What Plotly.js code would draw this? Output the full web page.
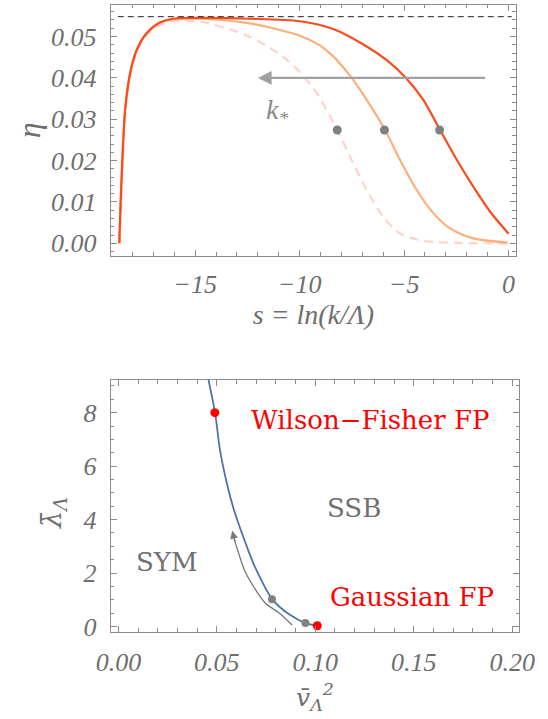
<!DOCTYPE html>
<html>
<head>
<meta charset="utf-8">
<script src="https://cdn.plot.ly/plotly-3.0.1.min.js"></script>
<style>html,body{margin:0;padding:0;background:#fff}#chart{width:548px;height:719px}</style>
</head>
<body>
<div id="chart"></div>
<script>
// ---------- top panel: eta(s) ----------
const sRed   = [-18.63,-18.56,-18.46,-18.35,-18.11,-17.79,-17.32,-16.68,-16.04,-14.77,-12.4,-9.98,-8.39,-6.79,-5.83,-4.91,-4.08,-3.28,-2.48,-1.69,-0.89,0];
const etaRed = [0,0.0105,0.0226,0.0323,0.0411,0.0468,0.0508,0.0534,0.0543,0.0545,0.0543,0.0537,0.0518,0.0476,0.0443,0.0400,0.0347,0.0274,0.0202,0.0137,0.0077,0.0023];

const sOrange   = [-18.63,-18.56,-18.46,-18.35,-18.11,-17.79,-17.32,-16.68,-16.04,-14.77,-12.4,-9.98,-9.02,-8.39,-7.51,-6.79,-5.91,-5.20,-4.40,-3.60,-2.80,-1.69,-0.06];
const etaOrange = [0,0.0105,0.0226,0.0323,0.0411,0.0468,0.0508,0.0533,0.0542,0.0543,0.0532,0.0502,0.0478,0.0452,0.0400,0.0347,0.0274,0.0202,0.0129,0.0073,0.0036,0.0012,0.0002];

const sPink   = [-18.6,-18.53,-18.43,-18.32,-18.08,-17.76,-17.29,-16.65,-16.0,-14.77,-12.5,-10.78,-9.98,-9.18,-8.20,-7.59,-6.79,-6.00,-5.20,-4.08,-2.5,0];
const etaPink = [0,0.0105,0.0226,0.0323,0.0411,0.0468,0.0505,0.0528,0.0537,0.0536,0.0502,0.0451,0.0413,0.0363,0.0274,0.0210,0.0129,0.0064,0.0024,0.0006,0.0001,0];

const etaStarS   = [-18.7, 0.15];
const etaStarVal = [0.0548, 0.0548];

const kStarS   = [-8.20, -5.94, -3.30];
const kStarEta = [0.0274, 0.0274, 0.0274];

const topArrowS   = [-1.05, -12.0];   // tail, head
const topArrowEta = [0.0400, 0.0400];
const kLabel = {s: -11.1, eta: 0.0318, text: "<i>k</i><sub>*</sub>"};

// ---------- bottom panel: flow in (v^2, lambda) ----------
const flowV   = [0.0452,0.0457,0.0491,0.0516,0.0551,0.0587,0.0640,0.0693,0.0782,0.0871,0.0951,0.101];
const flowLam = [9.5,9.26,8.0,6.6,5.36,4.36,3.24,2.24,1.02,0.44,0.13,0.03];

const fpV   = [0.049, 0.101];
const fpLam = [8.0, 0.03];
const grayV   = [0.078, 0.095];
const grayLam = [1.02, 0.13];

const curveArrowV   = [0.0882,0.0818,0.0747,0.0676,0.0640,0.0605,0.0588];
const curveArrowLam = [0.06,0.50,0.87,1.62,2.12,2.87,3.30];
const curveArrowHead = {v: 0.0578, lam: 3.58};

const regionLabels = [
  {v: 0.1276, lam: 7.73, text: "Wilson\u2212Fisher FP", color: "#ff0000"},
  {v: 0.1493, lam: 1.12, text: "Gaussian FP", color: "#ff0000"},
  {v: 0.1195, lam: 4.43, text: "SSB", color: "#707070"},
  {v: 0.0245, lam: 2.43, text: "SYM", color: "#707070"}
];
const lambdaTitle = "\u03BB\u0304<sub>\u039B</sub>";

const gray = "#6e6e6e";
const frame = "#8c8c8c";
const serif = "DejaVu Serif";
const itSerif = "Liberation Serif";
const tickFont = {family: itSerif, size: 26, color: gray, style: "italic"};

const traces = [
  {x: sPink, y: etaPink, xaxis: "x", yaxis: "y", mode: "lines",
   line: {color: "rgba(253,200,190,0.8)", width: 2.2, dash: "9px,6px", shape: "spline", smoothing: 0.8}, hoverinfo: "skip"},
  {x: sOrange, y: etaOrange, xaxis: "x", yaxis: "y", mode: "lines",
   line: {color: "rgba(253,160,100,0.85)", width: 2.2, shape: "spline", smoothing: 0.8}, hoverinfo: "skip"},
  {x: sRed, y: etaRed, xaxis: "x", yaxis: "y", mode: "lines",
   line: {color: "#fc4a1a", width: 2.2, shape: "spline", smoothing: 0.8}, hoverinfo: "skip"},
  {x: etaStarS, y: etaStarVal, xaxis: "x", yaxis: "y", mode: "lines",
   line: {color: "#222", width: 1, dash: "6px,4px"}, hoverinfo: "skip"},
  {x: kStarS, y: kStarEta, xaxis: "x", yaxis: "y", mode: "markers",
   marker: {color: "#808080", size: 9}, hoverinfo: "skip"},

  {x: flowV, y: flowLam, xaxis: "x2", yaxis: "y2", mode: "lines",
   line: {color: "#4f73ad", width: 1.8, shape: "spline", smoothing: 0.8}, hoverinfo: "skip"},
  {x: curveArrowV, y: curveArrowLam, xaxis: "x2", yaxis: "y2", mode: "lines",
   line: {color: "#777", width: 1.3, shape: "spline", smoothing: 0.8}, hoverinfo: "skip"},
  {x: grayV, y: grayLam, xaxis: "x2", yaxis: "y2", mode: "markers",
   marker: {color: "#808080", size: 8}, hoverinfo: "skip"},
  {x: fpV, y: fpLam, xaxis: "x2", yaxis: "y2", mode: "markers",
   marker: {color: "#ff0000", size: 9}, hoverinfo: "skip", cliponaxis: false}
];

function axisBase(extra) {
  return Object.assign({
    showline: true, linecolor: frame, linewidth: 1, mirror: "allticks",
    ticks: "inside", ticklen: 6, tickwidth: 1, tickcolor: frame,
    showgrid: false, zeroline: false, automargin: true,
    tickfont: tickFont, ticklabelstandoff: 6
  }, extra);
}

const annotations = [
  {x: topArrowS[1], y: topArrowEta[1], ax: topArrowS[0], ay: topArrowEta[0],
   xref: "x", yref: "y", axref: "x", ayref: "y", showarrow: true, text: "",
   arrowhead: 2, arrowsize: 1.15, arrowwidth: 2.4, arrowcolor: "#a0a0a0"},
  {x: curveArrowHead.v, y: curveArrowHead.lam, xref: "x2", yref: "y2", ax: 3, ay: 12,
   showarrow: true, text: "", arrowhead: 2, arrowsize: 1.1, arrowwidth: 1.4, arrowcolor: "#777"},
  {x: kLabel.s, y: kLabel.eta, xref: "x", yref: "y", text: kLabel.text, showarrow: false,
   font: {family: itSerif, size: 28, color: "#8a8a8a", style: "italic"}},
  {x: -0.1366, y: 0.1908, xref: "paper", yref: "paper", xanchor: "center", yanchor: "middle",
   text: lambdaTitle, textangle: -90, showarrow: false,
   font: {family: serif, size: 27, color: gray, style: "italic"}}
].concat(regionLabels.map(r => ({
  x: r.v, y: r.lam, xref: "x2", yref: "y2", text: r.text, showarrow: false,
  font: {family: serif, size: 26, color: r.color}
})));

const layout = {
  width: 548, height: 719,
  margin: {l: 110, r: 28, t: 4, b: 86},
  paper_bgcolor: "#fff", plot_bgcolor: "#fff",
  showlegend: false,
  xaxis: axisBase({domain: [0.0017, 0.9902], anchor: "y", range: [-19.04, 0.354],
    dtick: 5, tick0: 0, ticklabelstandoff: 5,
    minor: {dtick: 1, ticks: "inside", ticklen: 3.5, tickcolor: frame, showgrid: false},
    title: {text: "s = ln(k/\u039B)", font: {family: itSerif, size: 28, color: gray, style: "italic"}, standoff: 0}}),
  yaxis: axisBase({domain: [0.5998, 0.9989], anchor: "x", range: [-0.0030, 0.0577],
    dtick: 0.01, tick0: 0, tickformat: ".2f", ticklabelstandoff: 8,
    minor: {dtick: 0.002, ticks: "inside", ticklen: 3.5, tickcolor: frame, showgrid: false},
    title: {text: "\u03B7", font: {family: itSerif, size: 32, color: gray, style: "italic"}, standoff: 0}}),
  xaxis2: axisBase({domain: [0.0017, 0.9983], anchor: "y2", range: [-0.0039, 0.2036],
    dtick: 0.05, tick0: 0, tickformat: ".2f", ticklabelstandoff: 7,
    minor: {dtick: 0.01, ticks: "inside", ticklen: 3.5, tickcolor: frame, showgrid: false},
    title: {text: "v\u0304<sub>\u039B</sub><sup>2</sup>", font: {family: serif, size: 25, color: gray, style: "italic"}, standoff: 12}}),
  yaxis2: axisBase({domain: [0.0021, 0.4022], anchor: "x2", range: [-0.19, 9.22],
    dtick: 2, tick0: 0, ticklabelstandoff: 8,
    minor: {dtick: 0.5, ticks: "inside", ticklen: 3.5, tickcolor: frame, showgrid: false}}),
  annotations: annotations
};

Plotly.newPlot("chart", traces, layout, {staticPlot: true, displayModeBar: false});
</script>
</body>
</html>
